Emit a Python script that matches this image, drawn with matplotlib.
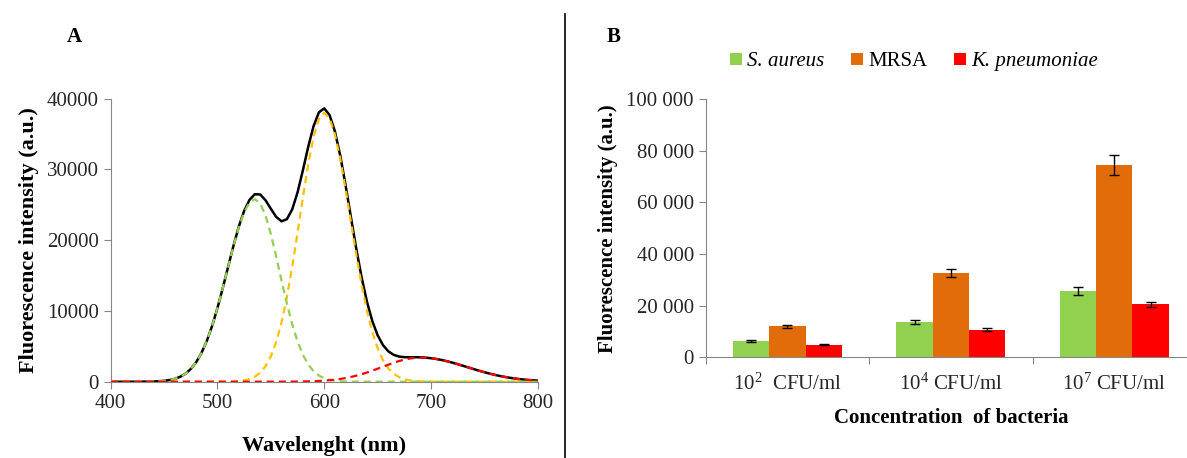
import numpy as np
import matplotlib
matplotlib.use('Agg')
import matplotlib.pyplot as plt
from matplotlib.patches import Patch
from matplotlib.lines import Line2D

plt.rcParams['font.family'] = ['Liberation Serif', 'DejaVu Serif']
plt.rcParams['mathtext.fontset'] = 'custom'
plt.rcParams['mathtext.rm'] = 'Liberation Serif'
plt.rcParams['mathtext.it'] = 'Liberation Serif:italic'

# ---- panel A: fitted emission spectrum ----
wavelength = list(range(400, 801, 5))
peak_green = [0, 0, 0, 0, 0, 0, 8, 16, 33, 65, 123, 227, 402, 688, 1133, 1800,
              2750, 4060, 5770, 7900, 10430, 13260, 16250, 19190, 21850, 23960,
              25330, 25800, 25200, 23470, 20860, 17680, 14290, 11020, 8110, 5690,
              3810, 2430, 1480, 860, 480, 250, 130, 60, 30, 12, 5, 2, 0, 0,
              0, 0, 0, 0, 0, 0, 0, 0, 0, 0, 0, 0, 0, 0, 0, 0, 0, 0, 0, 0,
              0, 0, 0, 0, 0, 0, 0, 0, 0, 0, 0]
peak_orange = [0, 0, 0, 0, 0, 0, 0, 0, 0, 0, 0, 0, 0, 0, 0, 0,
               0, 0, 0, 1, 3, 8, 18, 41, 90, 186, 371, 701, 1265, 2177, 3576,
               5605, 8375, 11940, 16230, 21050, 26040, 30720, 34570, 37110, 38000,
               37220, 34960, 31510, 27230, 22580, 17960, 13700, 10020, 7030, 4740,
               3060, 1890, 1130, 640, 350, 184, 92, 45, 21, 9, 4, 2, 0, 0,
               0, 0, 0, 0, 0, 0, 0, 0, 0, 0, 0, 0, 0, 0, 0, 0]
peak_red = [0, 0, 0, 0, 0, 0, 0, 0, 0, 0, 0, 0, 0, 0, 0, 0,
            0, 0, 0, 0, 0, 0, 0, 0, 0, 0, 0, 0, 0, 1, 2, 3, 5, 8, 13, 21,
            32, 48, 72, 104, 149, 209, 288, 388, 514, 666, 848, 1059, 1296, 1557,
            1834, 2120, 2402, 2672, 2914, 3117, 3271, 3367, 3400, 3378, 3313,
            3208, 3066, 2893, 2695, 2478, 2249, 2015, 1783, 1557, 1342, 1142,
            959, 795, 651, 527, 420, 330, 257, 197, 149]
total = [0, 0, 0, 0, 0, 0, 8, 16, 33, 65, 123, 227, 402, 688, 1133, 1800,
         2750, 4060, 5770, 7900, 10430, 13270, 16270, 19230, 21940, 24150,
         25700, 26500, 26460, 25650, 24440, 23290, 22670, 22970, 24350, 26760,
         29880, 33200, 36120, 38070, 38630, 37680, 35380, 31960, 27770, 23260,
         18810, 14760, 11320, 8590, 6570, 5180, 4300, 3800, 3555, 3467, 3455,
         3459, 3445, 3399, 3322, 3212, 3068, 2893, 2695, 2478, 2249, 2015,
         1783, 1557, 1342, 1142, 959, 795, 651, 527, 420, 330, 257, 197, 149]

# ---- panel B: bacteria concentrations ----
conc_labels = ['10$^2$  CFU/ml', '10$^4$ CFU/ml', '10$^7$ CFU/ml']
species = ['S. aureus', 'MRSA', 'K. pneumoniae']
saureus = [6350, 13700, 25600]
saureus_err = [450, 750, 1450]
mrsa = [12000, 32700, 74600]
mrsa_err = [600, 1700, 3800]
kpneu = [4900, 10600, 20500]
kpneu_err = [150, 600, 900]
bar_colors = ['#92D050', '#E36C0A', '#FF0000']

grey = '#868686'
fig = plt.figure(figsize=(11.87, 4.58), dpi=100)

# panel A
axA = fig.add_axes([0.0933, 0.1666, 0.3597, 0.6179])
axA.plot(wavelength, total, color='black', lw=1.8, zorder=2,
         solid_joinstyle='round', solid_capstyle='round')
for y, c in zip([peak_orange, peak_green, peak_red], ['#FFC000', '#92D050', '#FF0000']):
    axA.plot(wavelength, y, color=c, lw=1.6, dashes=(3.2, 2.2), zorder=3,
             dash_joinstyle='round')
axA.set_xlim(400, 800)
axA.set_ylim(0, 40000)
axA.set_xticks([400, 500, 600, 700, 800])
axA.set_yticks([0, 10000, 20000, 30000, 40000])
axA.set_yticklabels(['0', '10000', '20000', '30000', '40000'])
for s in ['top', 'right']:
    axA.spines[s].set_visible(False)
for s in ['left', 'bottom']:
    axA.spines[s].set_color(grey)
axA.tick_params(colors=grey, labelcolor='#262626', labelsize=15, length=5, width=0.8)
axA.set_xlabel('Wavelenght (nm)', fontsize=16, fontweight='bold', labelpad=17)
axA.set_ylabel('Fluorescence intensity (a.u.)', fontsize=16, fontweight='bold', labelpad=6)
fig.text(0.063, 0.92, 'A', fontsize=15, fontweight='bold', ha='center', va='center')

# divider
fig.add_artist(Line2D([0.476, 0.476], [0.0, 0.969], color='black', lw=1.2))

# panel B
axB = fig.add_axes([0.5945, 0.2199, 0.4131, 0.5633])
x = np.arange(len(conc_labels)) + 0.5
w = 0.222
for i, (vals, errs) in enumerate([(saureus, saureus_err), (mrsa, mrsa_err), (kpneu, kpneu_err)]):
    axB.bar(x + (i - 1) * w, vals, w, color=bar_colors[i], yerr=errs,
            error_kw=dict(ecolor='black', elinewidth=1, capsize=3.5, capthick=1), zorder=2)
axB.set_xlim(0, 3)
axB.set_ylim(0, 100000)
axB.set_yticks([0, 20000, 40000, 60000, 80000, 100000])
axB.set_yticklabels(['0', '20 000', '40 000', '60 000', '80 000', '100 000'])
axB.set_xticks([0, 1, 2, 3])
axB.set_xticklabels([])
axB.set_xticks(x, minor=True)
axB.set_xticklabels(conc_labels, minor=True)
axB.tick_params(axis='x', which='minor', length=0, pad=12)
for s in ['top', 'right']:
    axB.spines[s].set_visible(False)
for s in ['left', 'bottom']:
    axB.spines[s].set_color(grey)
axB.tick_params(which='both', colors=grey, labelcolor='#262626', labelsize=15, width=0.8)
axB.tick_params(which='major', length=5)
axB.set_xlabel('Concentration  of bacteria', fontsize=15, fontweight='bold', labelpad=9)
axB.set_ylabel('Fluorescence intensity (a.u.)', fontsize=15, fontweight='bold', labelpad=6)
fig.text(0.517, 0.92, 'B', fontsize=15, fontweight='bold', ha='center', va='center')

handles = [Patch(facecolor=c, edgecolor='none') for c in bar_colors]
leg = fig.legend(handles, species, loc='center', bbox_to_anchor=(0.77, 0.865), ncol=3,
                 frameon=False, fontsize=15, handlelength=0.55, handleheight=0.55,
                 handletextpad=0.25, columnspacing=1.3)
leg.get_texts()[0].set_style('italic')
leg.get_texts()[2].set_style('italic')

fig.savefig('out.png', dpi=100)
